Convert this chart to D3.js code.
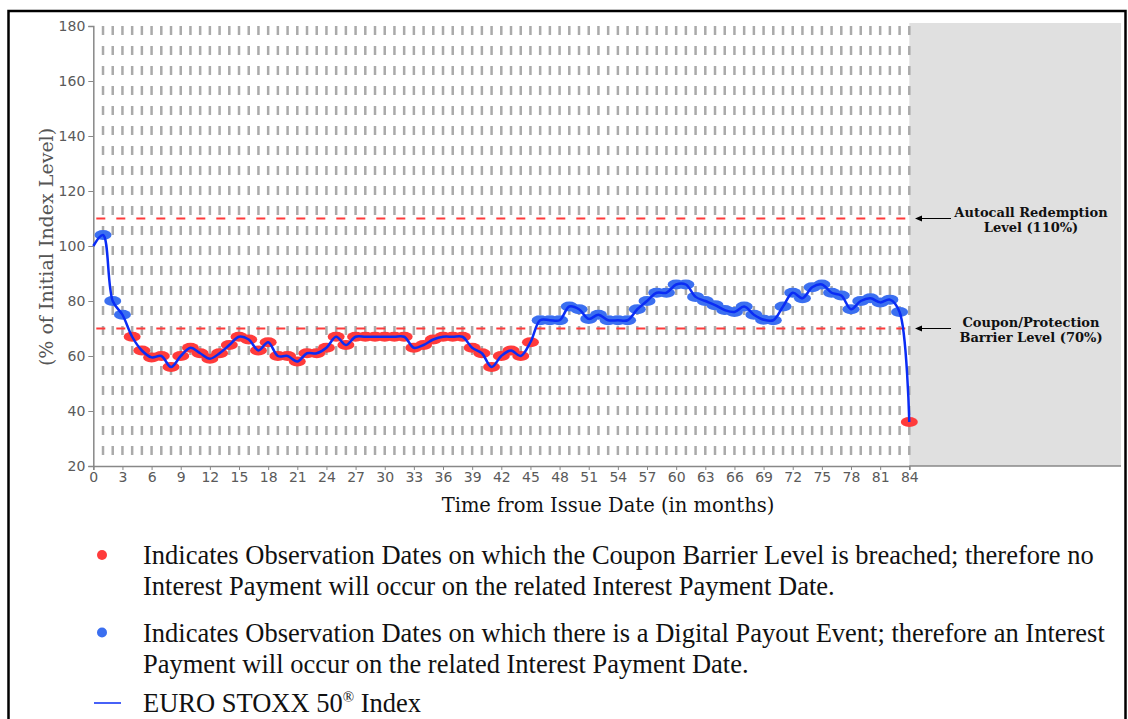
<!DOCTYPE html>
<html><head><meta charset="utf-8">
<script src="https://cdn.jsdelivr.net/npm/d3@7"></script>
<style>
html,body{margin:0;padding:0;background:#fff;}
svg{display:block;}
</style></head>
<body>
<svg id="chart" width="1128" height="719"></svg>
<script>
// ---- data ----
const months = d3.range(0, 85);
const indexLevels = [100,104,80,75,67,62,59.5,60,56,60,63,61,59,61,64,67,66,62,65,60,60,58,61,61,63,67,64,67,67,67,67,67,67,63,64,66,67,67,67,63,61,56,60,62,60,65,73,73,73,78,77,73.5,75,73,73,73,77,80,83,83,86,86,81.5,80,78.5,76.7,76,78,75,73.2,73,78,83,81,85,86,83,82,77,80,81,79.5,80.5,76,36];
const yTicks = [20,40,60,80,100,120,140,160,180];
const xTicks = d3.range(0, 85, 3);
const barrierLevels = [110, 70];
const couponBarrier = 70;
const annotations = [["Autocall Redemption","Level (110%)"],["Coupon/Protection","Barrier Level (70%)"]];
const legendItems = [
  ["Indicates Observation Dates on which the Coupon Barrier Level is breached; therefore no","Interest Payment will occur on the related Interest Payment Date."],
  ["Indicates Observation Dates on which there is a Digital Payout Event; therefore an Interest","Payment will occur on the related Interest Payment Date."]
];
const xLabel = "Time from Issue Date (in months)";
const yLabel = "(% of Initial Index Level)";

// ---- layout ----
const svg = d3.select("#chart");
const L = 93.3, R = 909.3, T = 26, B = 466, PR = 1121;
const x = d3.scaleLinear().domain([0,84]).range([L,R]);
const y = d3.scaleLinear().domain([20,180]).range([B,T]);

// frame
svg.append("rect").attr("x",8.5).attr("y",11).attr("width",1117).attr("height",730)
  .attr("fill","none").attr("stroke","#000").attr("stroke-width",2.5);

// gray region after maturity
svg.append("rect").attr("x",x(84)).attr("y",T-3).attr("width",PR - x(84)).attr("height",B-T+3)
  .attr("fill","#e0e0e0");

// vertical dashed month lines
svg.append("g").selectAll("line").data(months.slice(1)).join("line")
  .attr("x1",d=>x(d)).attr("x2",d=>x(d)).attr("y1",T).attr("y2",B)
  .attr("stroke","#aaaaaa").attr("stroke-width",2.5).attr("stroke-dasharray","9,11");

// barrier lines
svg.append("g").selectAll("line").data(barrierLevels).join("line")
  .attr("x1",L).attr("x2",x(84)).attr("y1",d=>y(d)).attr("y2",d=>y(d))
  .attr("stroke","#ff3b3b").attr("stroke-width",2).attr("stroke-dasharray","9,11")
  .attr("stroke-dashoffset",-3);

// axes
const yAxis = svg.append("g").attr("transform",`translate(${L},0)`)
  .call(d3.axisLeft(y).tickValues(yTicks).tickSize(5).tickPadding(3));
const xAxis = svg.append("g").attr("transform",`translate(0,${B})`)
  .call(d3.axisBottom(x).tickValues(xTicks).tickSize(4).tickPadding(2));
[yAxis,xAxis].forEach(a=>{
  a.select(".domain").attr("stroke","#888").attr("stroke-width",1.5);
  a.selectAll(".tick line").attr("stroke","#888");
  a.selectAll("text").attr("fill","#5a5a5a").style("font-family","DejaVu Sans").style("font-size","14px");
});
// extend x axis line across grey area
svg.append("line").attr("x1",R).attr("x2",PR).attr("y1",B).attr("y2",B)
  .attr("stroke","#888").attr("stroke-width",1.5);

// axis titles
svg.append("text").attr("x",608).attr("y",512).attr("text-anchor","middle")
  .style("font-family","DejaVu Serif").style("font-size","19.5px").attr("fill","#111").text(xLabel);
svg.append("text").attr("transform","translate(53,247) rotate(-90)").attr("text-anchor","middle")
  .style("font-family","DejaVu Serif").style("font-size","19px").attr("fill","#555").text(yLabel);

// markers
const data = months.map((m,i)=>({m, v:indexLevels[i]}));
svg.append("g").selectAll("ellipse").data(data.filter(d=>d.m>0)).join("ellipse")
  .attr("cx",d=>x(d.m)).attr("cy",d=>y(d.v)).attr("rx",8.5).attr("ry",5)
  .attr("fill",d=>d.v < couponBarrier ? "#ff3b3b" : "#3b6ff0");

// index line
const line = d3.line().x(d=>x(d.m)).y(d=>y(d.v)).curve(d3.curveCatmullRom.alpha(0.5));
svg.append("path").datum(data).attr("d",line).attr("fill","none")
  .attr("stroke","#0a2cf5").attr("stroke-width",2.5);

// arrows + annotations
barrierLevels.forEach((lv,i)=>{
  const yy = y(lv);
  svg.append("line").attr("x1",918).attr("x2",951).attr("y1",yy).attr("y2",yy)
    .attr("stroke","#000").attr("stroke-width",1);
  svg.append("path").attr("d",`M915,${yy} L922,${yy-3} L922,${yy+3} Z`).attr("fill","#000");
  const t = svg.append("text").attr("text-anchor","middle")
    .style("font-family","DejaVu Serif").style("font-weight","bold").style("font-size","13px").attr("fill","#111");
  annotations[i].forEach((s,j)=>{
    t.append("tspan").attr("x",1031).attr("y",yy - 2 + j*15).text(s);
  });
});

// legend
const lg = svg.append("g");
const legendColors = ["#ff3b3b","#3b6ff0"];
const legendY = [555, 632.5];
legendItems.forEach((lines,i)=>{
  lg.append("circle").attr("cx",102).attr("cy",legendY[i]).attr("r",5).attr("fill",legendColors[i]);
  lines.forEach((s,j)=>{
    lg.append("text").attr("x",143).attr("y",legendY[i]+9+j*31)
      .style("font-family","Liberation Serif").style("font-size","26.5px").attr("fill","#111").text(s);
  });
});
lg.append("line").attr("x1",94).attr("x2",121).attr("y1",703).attr("y2",703).attr("stroke","#0a2cf5").attr("stroke-width",1.5);
const lt = lg.append("text").attr("x",143).attr("y",711.5)
  .style("font-family","Liberation Serif").style("font-size","26.5px").attr("fill","#111");
lt.append("tspan").text("EURO STOXX 50");
lt.append("tspan").attr("dy",-10).style("font-size","15px").text("®");
lt.append("tspan").attr("dy",10).text(" Index");
</script>
</body></html>
